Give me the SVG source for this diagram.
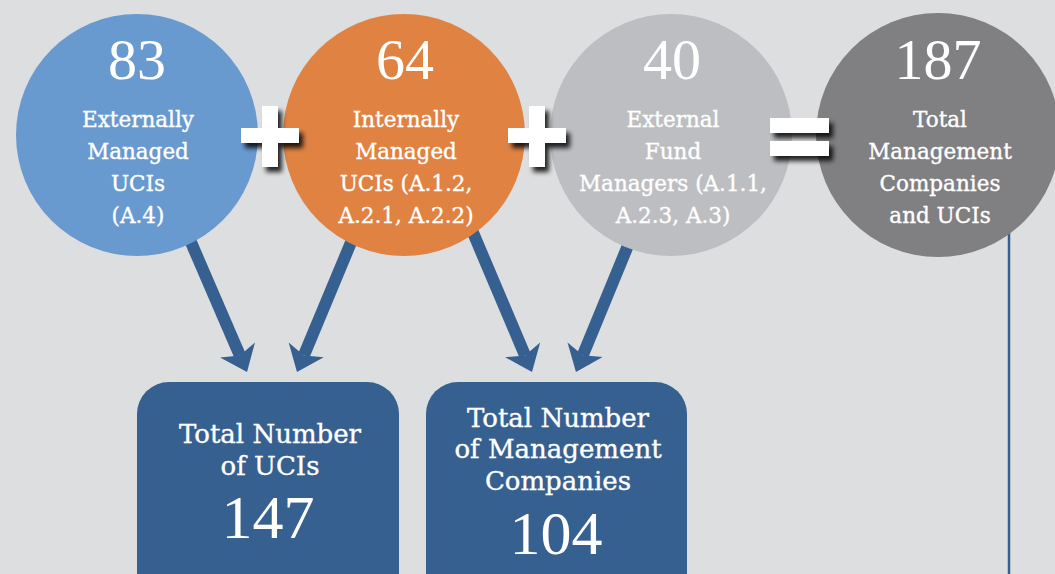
<svg xmlns="http://www.w3.org/2000/svg" width="1055" height="574" viewBox="0 0 1055 574">
<style>
.lbl{font-family:"DejaVu Serif","Liberation Serif",serif;font-size:21.5px;fill:#fff;stroke:#fff;stroke-width:0.35px;text-anchor:middle}
.blbl{font-family:"DejaVu Serif","Liberation Serif",serif;font-size:26px;fill:#fff;stroke:#fff;stroke-width:0.35px;text-anchor:middle}
.num{font-family:"Liberation Serif","DejaVu Serif",serif;font-size:58px;fill:#fff;text-anchor:middle}
.bnum{font-family:"Liberation Serif","DejaVu Serif",serif;font-size:62px;fill:#fff;text-anchor:middle}
.arr{stroke:#366090;stroke-width:12;fill:none}
.op{fill:#fff;filter:url(#sh)}
</style>
<defs>
<marker id="ah" markerUnits="userSpaceOnUse" markerWidth="30" markerHeight="40" viewBox="0 -20 26 40" refX="6" refY="0" orient="auto">
<path d="M0,-19 L24,0 L0,19 L6,0 Z" fill="#366090"/>
</marker>
<filter id="sh" x="-30%" y="-30%" width="170%" height="170%">
<feGaussianBlur in="SourceAlpha" stdDeviation="2.5"/>
<feOffset dx="4" dy="5" result="b"/>
<feComponentTransfer><feFuncA type="linear" slope="0.85"/></feComponentTransfer>
<feMerge><feMergeNode/><feMergeNode in="SourceGraphic"/></feMerge>
</filter>
</defs>
<rect width="1055" height="574" fill="#DDDEE0"/>
<g id="connectors">
<line x1="1009" y1="200" x2="1009" y2="574" stroke="#366090" stroke-width="2.5"/>
<line class="arr" x1="185.7" y1="230" x2="239.9" y2="355.5" marker-end="url(#ah)"/>
<line class="arr" x1="356.2" y1="230" x2="303.9" y2="355.4" marker-end="url(#ah)"/>
<line class="arr" x1="467.7" y1="220" x2="525" y2="355.4" marker-end="url(#ah)"/>
<line class="arr" x1="636.4" y1="225" x2="582.8" y2="355.3" marker-end="url(#ah)"/>
</g>
<g id="node-external-ucis">
<circle cx="137" cy="135" r="121" fill="#6899CF"/>
<text class="num" x="137" y="79">83</text>
<text class="lbl" x="138" y="127">Externally</text>
<text class="lbl" x="138" y="159">Managed</text>
<text class="lbl" x="138" y="191">UCIs</text>
<text class="lbl" x="138" y="223">(A.4)</text>
</g>
<g id="node-internal-ucis">
<circle cx="404" cy="135" r="121" fill="#E08242"/>
<text class="num" x="405" y="79">64</text>
<text class="lbl" x="406" y="127">Internally</text>
<text class="lbl" x="406" y="159">Managed</text>
<text class="lbl" x="406" y="191">UCIs (A.1.2,</text>
<text class="lbl" x="406" y="223">A.2.1, A.2.2)</text>
</g>
<g id="node-external-fund-managers">
<circle cx="671" cy="135" r="121" fill="#BDBEC1"/>
<text class="num" x="672" y="79">40</text>
<text class="lbl" x="673" y="127">External</text>
<text class="lbl" x="673" y="159">Fund</text>
<text class="lbl" x="673" y="191">Managers (A.1.1,</text>
<text class="lbl" x="673" y="223">A.2.3, A.3)</text>
</g>
<g id="node-total">
<circle cx="938" cy="135" r="122" fill="#808082"/>
<text class="num" x="938" y="79">187</text>
<text class="lbl" x="940" y="127">Total</text>
<text class="lbl" x="940" y="159">Management</text>
<text class="lbl" x="940" y="191">Companies</text>
<text class="lbl" x="940" y="223">and UCIs</text>
</g>
<g id="operators">
<path class="op" d="M262,106 H278 V128 H299 V143 H278 V167 H262 V143 H241 V128 H262 Z"/>
<path class="op" d="M529,106 H545 V128 H566 V143 H545 V167 H529 V143 H508 V128 H529 Z"/>
<path class="op" d="M770,118 H829 V133 H770 Z M770,141 H829 V156 H770 Z"/>
</g>
<g id="node-total-ucis">
<rect x="137" y="382" width="262" height="230" rx="32" fill="#366090"/>
<text class="blbl" x="270" y="443">Total Number</text>
<text class="blbl" x="270" y="475">of UCIs</text>
<text class="bnum" x="268" y="538">147</text>
</g>
<g id="node-total-mgmt">
<rect x="426" y="382" width="261" height="230" rx="32" fill="#366090"/>
<text class="blbl" x="558" y="427">Total Number</text>
<text class="blbl" x="558" y="458">of Management</text>
<text class="blbl" x="558" y="490">Companies</text>
<text class="bnum" x="556" y="554">104</text>
</g>
</svg>
